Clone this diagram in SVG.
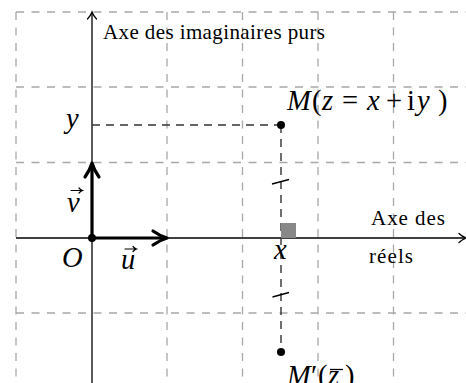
<svg xmlns="http://www.w3.org/2000/svg" width="466" height="383" viewBox="0 0 466 383">
<style>
.grid{stroke:#a8a8a8;stroke-width:1.3;stroke-dasharray:8 7.5;fill:none}
.proj{stroke:#333;stroke-width:1.4;stroke-dasharray:8 6;fill:none}
.axis{stroke:#000;stroke-width:1.3;fill:none}
.vec{stroke:#000;stroke-width:3.2;fill:none;stroke-linecap:round;stroke-linejoin:round}
.head{stroke:#000;stroke-width:1.3;fill:none;stroke-linecap:round}
.acc{stroke:#000;stroke-width:1.2;fill:none;stroke-linecap:round}
.txt{font-family:"Liberation Serif","Times New Roman",serif;font-size:21px;fill:#000}
.math{font-family:"Liberation Serif","Times New Roman",serif;font-size:28.5px;fill:#000}
.it{font-style:italic}
</style>
<rect width="466" height="383" fill="#fff"/>
<g id="grid">
<path class="grid" d="M16,12V390M167,12V390M242.5,12V390M318,12V390M393.5,12V390M16,12H470M16,87H470M16,162.5H470M16,313H470"/>
</g>
<g id="connectors">
<path class="axis" d="M16,238H465"/>
<path class="head" d="M459,233.5Q462,236.5 466,238Q462,239.5 459,242.5"/>
<path class="axis" d="M92,390V13"/>
<path class="head" d="M87.5,19Q90.5,16 92,12Q93.5,16 96.5,19"/>
<path class="proj" d="M92,125H281"/>
<path class="proj" d="M281,125V352"/>
<path class="axis" d="M272,184L289,179.5M272.5,297L289,292.5"/>
<path class="vec" d="M92,238H166"/>
<path class="vec" d="M153,231Q160,236 167,238Q160,240 153,245"/>
<path class="vec" d="M92,238V164"/>
<path class="vec" d="M85,177Q90,170 92,163Q94,170 99,177"/>
</g>
<g id="O">
<circle cx="92" cy="238" r="4" fill="#000"/>
<text class="math it" x="62" y="267">O</text>
</g>
<g id="u">
<text class="math it" x="121" y="269">u</text>
<path class="acc" d="M125,249H136M133,246.5Q134.5,248.3 136.5,249Q134.5,249.7 133,251.5"/>
</g>
<g id="v">
<text class="math it" x="67" y="212">v</text>
<path class="acc" d="M71,190.5H82M79,188Q80.5,189.8 82.5,190.5Q80.5,191.2 79,193"/>
</g>
<g id="ylabel"><text class="math it" x="66" y="128">y</text></g>
<g id="xlabel">
<rect x="281" y="223" width="15" height="15" fill="#888"/>
<text class="math it" x="274" y="259">x</text>
</g>
<g id="M">
<circle cx="281" cy="125" r="4" fill="#000"/>
<text class="math" y="110"><tspan class="it" x="287">M</tspan><tspan x="312">(</tspan><tspan class="it" x="322">z</tspan><tspan x="342">=</tspan><tspan class="it" x="367">x</tspan><tspan x="386">+</tspan><tspan x="407">i</tspan><tspan class="it" x="417">y</tspan><tspan x="438">)</tspan></text>
</g>
<g id="Mprime">
<circle cx="281" cy="352" r="4" fill="#000"/>
<text class="math" y="385"><tspan class="it" x="287">M</tspan><tspan x="311">′</tspan><tspan x="318">(</tspan><tspan class="it" x="328">z</tspan><tspan x="345">)</tspan></text>
<line x1="330" y1="369.5" x2="343" y2="369.5" stroke="#000" stroke-width="1.3"/>
</g>
<g id="imag-label"><text class="txt" x="103" y="39" textLength="222" lengthAdjust="spacing">Axe des imaginaires purs</text></g>
<g id="real-label">
<text class="txt" x="371" y="225" textLength="74" lengthAdjust="spacing">Axe des</text>
<text class="txt" x="369" y="263" textLength="44" lengthAdjust="spacing">réels</text>
</g>
</svg>
